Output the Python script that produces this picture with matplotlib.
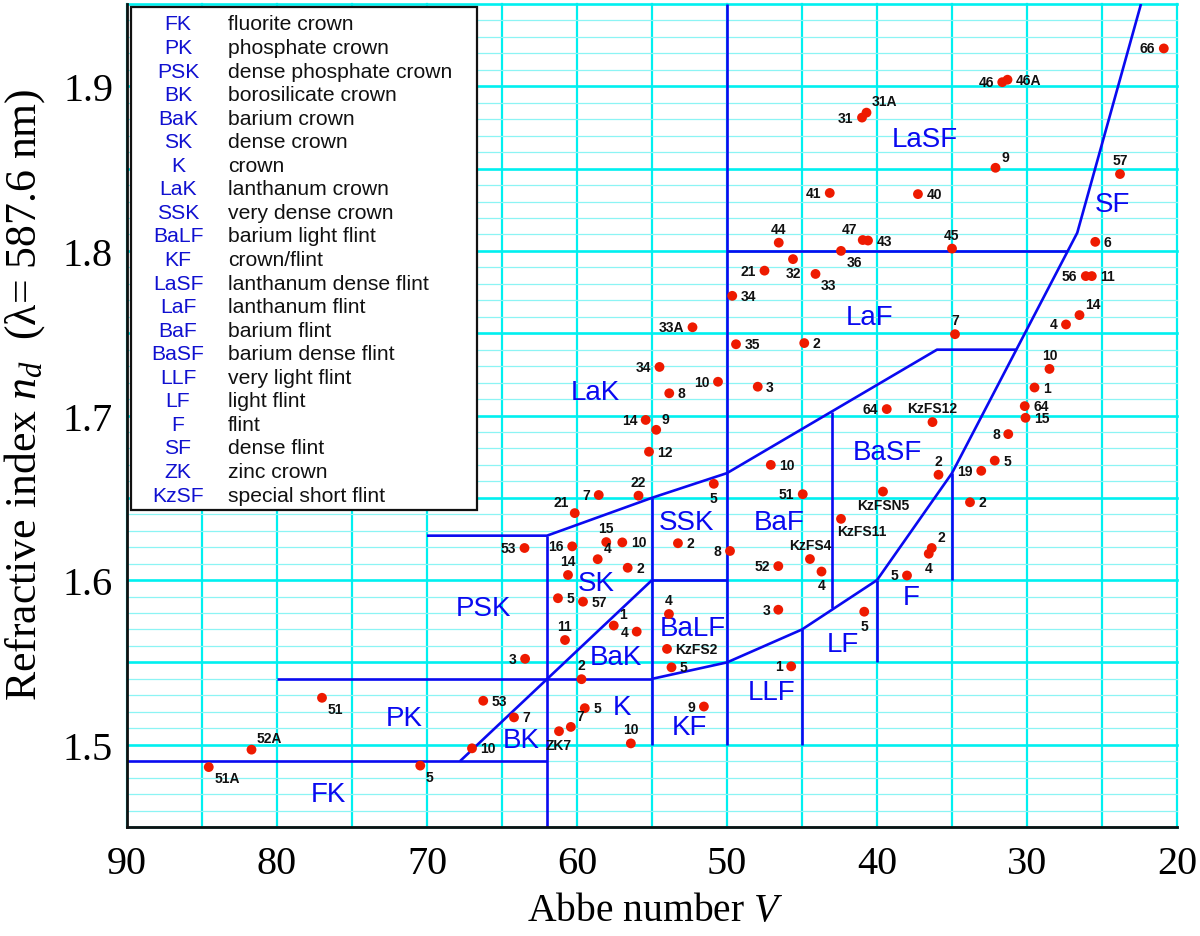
import matplotlib
matplotlib.use("Agg")
import matplotlib.pyplot as plt
from matplotlib.patches import Rectangle

# ---------------- data ----------------
glass_labels = [
    "66", "46A", "46", "31A", "31", "9", "57", "41", "40", "44", "47", "43", "45", "36", "6",
    "32", "21", "33", "34", "56", "11", "14", "4", "33A", "35", "2", "7",
    "10", "1", "64", "15", "8", "5", "19", "2",
    "64", "KzFS12", "2", "KzFSN5", "KzFS11",
    "2", "4", "5", "5", "1",
    "10", "51", "KzFS4", "52", "4", "3", "8",
    "34", "10", "3", "8", "14", "9", "12", "22", "7", "21",
    "5", "2", "53", "3",
    "16", "15", "10", "4", "2", "14", "5", "57", "11",
    "4", "KzFS2", "5", "1", "4", "2",
    "5", "7", "10", "ZK7", "9", "7", "10",
    "51", "53", "52A", "51A", "5",
]
abbe_numbers = [
    20.88, 31.30, 31.65, 40.70, 41.00, 32.10, 23.80, 43.15, 37.27, 46.55, 40.95, 40.60, 35.00, 42.40, 25.45,
    45.60, 47.50, 44.10, 49.65, 26.08, 25.68, 26.50, 27.40, 52.30, 49.40, 44.85, 34.80,
    28.50, 29.50, 30.15, 30.10, 31.25, 32.15, 33.05, 33.80,
    39.35, 36.30, 35.90, 39.60, 42.40,
    36.35, 36.55, 38.00, 40.85, 45.72,
    47.08, 44.95, 44.47, 46.58, 43.70, 46.58, 49.80,
    54.50, 50.60, 47.95, 53.85, 55.42, 54.72, 55.20, 55.90, 58.55, 60.15,
    50.88, 53.27, 63.50, 63.46,
    60.32, 58.05, 56.98, 58.62, 56.62, 60.60, 61.27, 59.60, 60.80,
    53.87, 54.00, 53.70, 57.55, 56.02, 59.70,
    59.48, 60.41, 56.41, 61.20, 51.54, 64.20, 67.00,
    77.00, 66.25, 81.70, 84.55, 70.45,
]
refr_indices = [
    1.9230, 1.9040, 1.9025, 1.8840, 1.8810, 1.8505, 1.8467, 1.8352, 1.8345, 1.8050, 1.8066, 1.8063, 1.8014, 1.8000, 1.8055,
    1.7950, 1.7880, 1.7860, 1.7727, 1.7847, 1.7847, 1.7610, 1.7553, 1.7536, 1.7433, 1.7440, 1.7494,
    1.7283, 1.7170, 1.7057, 1.6986, 1.6887, 1.6726, 1.6664, 1.6473,
    1.7039, 1.6960, 1.6640, 1.6538, 1.6372,
    1.6195, 1.6160, 1.6028, 1.5808, 1.5476,
    1.6700, 1.6522, 1.6128, 1.6085, 1.6052, 1.5820, 1.6177,
    1.7295, 1.7205, 1.7175, 1.7135, 1.6973, 1.6913, 1.6780, 1.6513, 1.6517, 1.6407,
    1.6585, 1.6224, 1.6195, 1.5522,
    1.6205, 1.6231, 1.6229, 1.6127, 1.6075, 1.6031, 1.5890, 1.5869, 1.5636,
    1.5794, 1.5582, 1.5470, 1.5724, 1.5687, 1.5398,
    1.5222, 1.5108, 1.5008, 1.5082, 1.5232, 1.5166, 1.4978,
    1.5285, 1.5267, 1.4970, 1.4864, 1.4873,
]

# region boundary polylines (Abbe number, refractive index)
boundaries = [
    ([90, 62], [1.49, 1.49]),
    ([62, 62], [1.45, 1.627]),
    ([80, 55], [1.54, 1.54]),
    ([70, 62, 55, 50, 36, 30.7], [1.627, 1.627, 1.65, 1.665, 1.74, 1.74]),
    ([67.8, 55], [1.49, 1.60]),
    ([55, 55], [1.50, 1.65]),
    ([55, 50], [1.60, 1.60]),
    ([50, 50], [1.50, 1.95]),
    ([55, 50, 45, 40], [1.54, 1.55, 1.57, 1.60]),
    ([45, 45], [1.50, 1.57]),
    ([43, 43], [1.583, 1.702]),
    ([40, 40], [1.55, 1.60]),
    ([35, 35], [1.60, 1.665]),
    ([40, 35, 26.65, 22.4], [1.60, 1.665, 1.811, 1.95]),
    ([50, 27.3], [1.80, 1.80]),
]

region_names = ["FK", "PK", "PSK", "BK", "BaK", "SK", "K", "LaK", "SSK", "BaLF",
                "KF", "LLF", "BaF", "LaF", "LaSF", "BaSF", "LF", "F", "SF"]
region_v = [76.6, 71.5, 66.2, 63.7, 57.4, 58.7, 57.0, 58.8, 52.7, 52.3,
            52.5, 47.0, 46.5, 40.5, 36.8, 39.3, 42.3, 37.7, 24.3]
region_n = [1.470, 1.5165, 1.583, 1.503, 1.553, 1.598, 1.523, 1.714, 1.6354, 1.571,
            1.511, 1.532, 1.635, 1.760, 1.868, 1.678, 1.561, 1.590, 1.8285]

legend_codes = ["FK", "PK", "PSK", "BK", "BaK", "SK", "K", "LaK", "SSK", "BaLF", "KF",
                "LaSF", "LaF", "BaF", "BaSF", "LLF", "LF", "F", "SF", "ZK", "KzSF"]
legend_names = ["fluorite crown", "phosphate crown", "dense phosphate crown",
                "borosilicate crown", "barium crown", "dense crown", "crown",
                "lanthanum crown", "very dense crown", "barium light flint",
                "crown/flint", "lanthanum dense flint", "lanthanum flint",
                "barium flint", "barium dense flint", "very light flint",
                "light flint", "flint", "dense flint", "zinc crown",
                "special short flint"]

x_ticks = [90, 80, 70, 60, 50, 40, 30, 20]
y_ticks = [1.5, 1.6, 1.7, 1.8, 1.9]

# label placement per point (style, not data)
placement = [
    "l", "r", "l", "ar", "l", "ar", "a", "l", "r", "a", "al", "r", "a", "br", "r",
    "b", "l", "br", "r", "l", "r", "ar", "l", "l", "r", "r", "a",
    "a", "r", "r", "r", "l", "r", "l", "r",
    "l", "a", "a", "b", "bb",
    "ar", "b", "l", "b", "l",
    "r", "l", "a", "l", "b", "l", "l",
    "l", "l", "r", "r", "l", "ar", "r", "a", "l", "al",
    "b", "r", "l", "l",
    "l", "a", "r", "ar", "r", "a", "r", "r", "a",
    "a", "r", "r", "ar", "l", "a",
    "r", "ar", "a", "b", "l", "r", "r",
    "br", "r", "ar", "br", "br",
]
offsets = {
    "r": ((6, 0), "left", "center"),
    "l": ((-6, 0), "right", "center"),
    "a": ((0, 5), "center", "bottom"),
    "b": ((0, -5), "center", "top"),
    "ar": ((4, 3), "left", "bottom"),
    "al": ((-4, 3), "right", "bottom"),
    "br": ((4, -3), "left", "top"),
    "bl": ((-4, -3), "right", "top"),
    "bb": ((-3, -4), "left", "top"),
}

# ---------------- figure ----------------
plt.rcParams["font.family"] = ["Liberation Serif", "DejaVu Serif"]
plt.rcParams["mathtext.fontset"] = "custom"
plt.rcParams["mathtext.rm"] = "Liberation Serif"
plt.rcParams["mathtext.it"] = "Liberation Serif:italic"

fig = plt.figure(figsize=(12, 9.37), dpi=100)
ax = fig.add_axes([127 / 1200, 1 - 828 / 937, 1050 / 1200, 823 / 937])
ax.set_xlim(90, 20)
ax.set_ylim(1.45, 1.95)

GRID = "#00f0f0"
MINOR = "#8cf4f4"
# vertical grid every 5
for v in range(20, 91, 5):
    ax.axvline(v, color=GRID, lw=1.6, zorder=0, clip_on=False)
# horizontal grid every 0.01 / 0.05
for i in range(0, 51):
    yv = 1.45 + i * 0.01
    major = (i % 5 == 0)
    ax.axhline(yv, color=GRID if major else MINOR, lw=1.9 if major else 0.9,
               zorder=0, clip_on=False)

for s in ["top", "right"]:
    ax.spines[s].set_visible(False)
for s in ["left", "bottom"]:
    ax.spines[s].set_linewidth(2.0)
    ax.spines[s].set_color("#111111")
    ax.spines[s].set_zorder(6)

ax.set_xticks(x_ticks)
ax.set_xticklabels([str(t) for t in x_ticks])
ax.set_yticks(y_ticks)
ax.set_yticklabels([f"{t:.1f}" for t in y_ticks])
ax.tick_params(axis="both", length=0, labelsize=29)
ax.tick_params(axis="x", pad=13)
ax.tick_params(axis="y", pad=10)

ax.set_xlabel("Abbe number $V$", fontsize=28.5)
ax.xaxis.set_label_coords(0.503, -0.101)
ax.xaxis.label.set_va("center")
ax.set_ylabel("Refractive index $n_d$  (λ= 587.6 nm)", fontsize=31.5)
ax.yaxis.set_label_coords(-0.098, 0.527)
ax.yaxis.label.set_va("center")

# boundaries
for bx, by in boundaries:
    ax.plot(bx, by, color="#0a0af0", lw=1.9, zorder=2, solid_capstyle="butt")

# region names
for name, v, n in zip(region_names, region_v, region_n):
    ax.text(v, n, name, color="#0a0af0", fontsize=20, family="Liberation Sans",
            ha="center", va="center", zorder=3)

# glass points
ax.scatter(abbe_numbers, refr_indices, s=50, color="#ee1a00", zorder=4,
           edgecolors="none")
for lab, v, n, p in zip(glass_labels, abbe_numbers, refr_indices, placement):
    off, ha, va = offsets[p]
    ax.annotate(lab, (v, n), xytext=off, textcoords="offset points",
                ha=ha, va=va, fontsize=10, fontweight="bold",
                family="Liberation Sans", color="#111111", zorder=5)

# legend box
ax.add_patch(Rectangle((0.0038, 0.385), 0.3295, 0.6114, transform=ax.transAxes,
                       facecolor="white", edgecolor="#111111", lw=1.6, zorder=7))
n_rows = len(legend_codes)
y0, y1 = 0.9757, 0.4034
for i, (code, desc) in enumerate(zip(legend_codes, legend_names)):
    yy = y0 - i * (y0 - y1) / (n_rows - 1)
    ax.text(0.0486, yy, code, transform=ax.transAxes, color="#1010d0",
            fontsize=15.2, family="Liberation Sans", ha="center", va="center", zorder=8)
    ax.text(0.0962, yy, desc, transform=ax.transAxes, color="#111111",
            fontsize=15.2, family="Liberation Sans", ha="left", va="center", zorder=8)

fig.savefig("out.png", dpi=100, facecolor="white")
